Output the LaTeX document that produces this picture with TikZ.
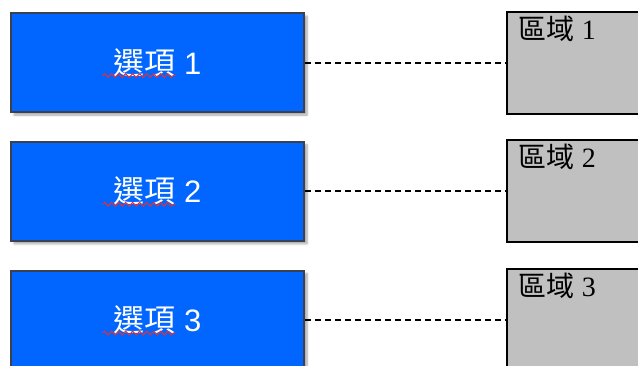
\documentclass[tikz,border=0pt]{standalone}
\usepackage{fontspec}
\setmainfont{Liberation Sans}
\newfontfamily\cjk{Noto Sans CJK TC}
\newfontfamily\serifnum{Liberation Serif}
\usepackage{tikz}
\usetikzlibrary{positioning, calc, shadows.blur, decorations.pathmorphing}
\definecolor{optblue}{HTML}{0066FF}
\definecolor{optedge}{HTML}{3C4150}
\definecolor{areagray}{HTML}{C0C0C0}
\definecolor{spellred}{HTML}{E0303A}

\begin{document}
\begin{tikzpicture}[
  x=1pt, y=-1pt,
  node distance=28pt and 201pt,
  optbox/.style={draw=optedge, line width=1.8pt, fill=optblue, minimum width=293pt, minimum height=99pt,
    text=white, font=\fontsize{31}{34}\selectfont, blur shadow={shadow xshift=3pt, shadow yshift=-3pt, shadow opacity=35, shadow blur steps=6}},
  areabox/.style={draw=black, line width=2pt, fill=areagray, minimum width=150pt, minimum height=102pt},
  areatext/.style={anchor=north west, inner sep=0pt, font=\fontsize{28}{30}\selectfont},
  link/.style={dashed, dash pattern=on 6pt off 4pt, line width=2pt},
  squiggle/.style={spellred, line width=1.1pt, decorate, decoration={snake, amplitude=1.8pt, segment length=7pt}},
]
\useasboundingbox (0,0) rectangle (638,365);

% Options
\node[optbox] (opt1) at (157.5,62.5) {{\cjk 選項} 1};
\node[optbox, below=of opt1] (opt2) {{\cjk 選項} 2};
\node[optbox, below=of opt2] (opt3) {{\cjk 選項} 3};

% Areas
\node[areabox, right=of opt1] (area1) {};
\node[areabox, right=of opt2] (area2) {};
\node[areabox, right=of opt3] (area3) {};
\node[areatext] (lab1) at ($(area1.north west)+(12,5)$) {{\cjk 區域} {\serifnum 1}};
\node[areatext] (lab2) at ($(area2.north west)+(12,5)$) {{\cjk 區域} {\serifnum 2}};
\node[areatext] (lab3) at ($(area3.north west)+(12,5)$) {{\cjk 區域} {\serifnum 3}};

% Spelling marks
\foreach \o in {opt1, opt2, opt3}
  \draw[squiggle] ($(\o.center)+(-55,13)$) -- ($(\o.center)+(18,13)$);

% Links
\draw[link] (opt1) -- (area1);
\draw[link] (opt2) -- (area2);
\draw[link] (opt3) -- (area3);

\end{tikzpicture}
\end{document}
